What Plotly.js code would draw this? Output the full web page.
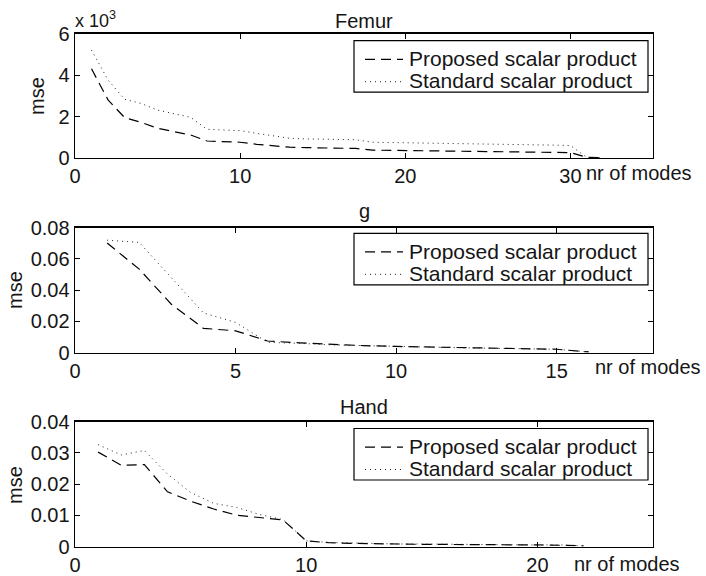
<!DOCTYPE html>
<html>
<head>
<meta charset="utf-8">
<script src="https://cdn.plot.ly/plotly-3.0.1.min.js"></script>
<style>
  html, body { margin: 0; padding: 0; background: #fff; }
  #chart { width: 706px; height: 576px; }
</style>
</head>
<body>
<div id="chart"></div>
<script>
// Reconstruction error (mse) against number of modes, three datasets.

// Femur (values in raw units, axis labelled x 10^3)
const femurModes = [1,2,3,4,5,6,7,8,9,10,11,12,13,14,15,16,17,18,19,20,21,22,23,24,25,26,27,28,29,30,31,32];
const femurProposed = [4300,2800,1950,1720,1430,1270,1110,820,790,760,660,580,520,500,490,470,460,380,370,360,350,340,330,320,310,300,290,280,270,260,30,10];
const femurStandard = [5200,3760,2830,2630,2310,2120,1960,1380,1350,1320,1190,1060,950,920,900,890,880,760,750,740,730,720,700,690,680,670,650,640,620,600,30,10];
const femurTickVals = [0,2000,4000,6000];
const femurTickText = ['0','2','4','6'];

// g
const gModes = [1,2,3,4,5,6,7,8,9,10,11,12,13,14,15,16];
const gProposed = [0.0702,0.0535,0.0310,0.0156,0.0140,0.0075,0.0063,0.0053,0.0045,0.0040,0.0036,0.0032,0.0028,0.0025,0.0022,0.0005];
const gStandard = [0.0720,0.0706,0.0480,0.0255,0.0194,0.0066,0.0060,0.0050,0.0045,0.0040,0.0036,0.0032,0.0028,0.0025,0.0022,0.0005];

// Hand
const handModes = [1,2,3,4,5,6,7,8,9,10,11,12,13,14,15,16,17,18,19,20,21,22];
const handProposed = [0.0302,0.0260,0.0262,0.0175,0.0145,0.0120,0.0100,0.0092,0.0085,0.0018,0.0012,0.0010,0.0008,0.0008,0.0007,0.0007,0.0006,0.0006,0.0005,0.0005,0.0004,0.0002];
const handStandard = [0.0326,0.0293,0.0307,0.0232,0.0173,0.0138,0.0125,0.0102,0.0086,0.0018,0.0013,0.0011,0.0009,0.0008,0.0008,0.0007,0.0007,0.0006,0.0006,0.0005,0.0005,0.0002];

const seriesNames = ['Proposed scalar product', 'Standard scalar product'];
const panelTitles = ['Femur', 'g', 'Hand'];
const xLabel = 'nr of modes';
const yLabel = 'mse';

const FONT = 'Liberation Sans, Arial, Helvetica, sans-serif';
const INK = '#151515';
const W = 706, H = 576, L = 75, R = 53;

const dashStyle = {color: '#000', width: 1.2, dash: '10px,6px'};
const dotStyle = {color: '#222', width: 1, dash: '1px,4px'};

function pair(x, a, b, xa, ya) {
  return [
    {x: x, y: a, name: seriesNames[0], type: 'scatter', mode: 'lines', line: dashStyle,
     xaxis: xa, yaxis: ya, showlegend: false, hoverinfo: 'skip'},
    {x: x, y: b, name: seriesNames[1], type: 'scatter', mode: 'lines', line: dotStyle,
     xaxis: xa, yaxis: ya, showlegend: false, hoverinfo: 'skip'}
  ];
}

const data = [].concat(
  pair(femurModes, femurProposed, femurStandard, 'x', 'y'),
  pair(gModes, gProposed, gStandard, 'x2', 'y2'),
  pair(handModes, handProposed, handStandard, 'x3', 'y3')
);

// plot boxes in pixels (top, bottom)
const boxes = [[33.5, 158], [227.7, 352.7], [421.5, 546.5]];
const dom = b => [1 - b[1] / H, 1 - b[0] / H];

const axisBase = {
  showline: true, mirror: 'ticks', linecolor: '#000', linewidth: 1.4,
  ticks: 'inside', ticklen: 5, tickwidth: 1, tickcolor: '#000',
  showgrid: false, zeroline: false, fixedrange: true,
  tickfont: {family: FONT, size: 20, color: INK}
};

function xa(range, dtick, anchor) {
  return Object.assign({}, axisBase, {range: range, dtick: dtick, tick0: 0, anchor: anchor, domain: [0, 1]});
}
function ya(range, extra, anchor, b) {
  return Object.assign({}, axisBase, {range: range, anchor: anchor, domain: dom(b)}, extra);
}

const ann = (text, x, y, opts) => Object.assign({
  text: text, x: x, y: y, xref: 'paper', yref: 'paper', showarrow: false,
  xanchor: 'center', yanchor: 'middle',
  font: {family: FONT, size: 20, color: INK}
}, opts || {});
const px = v => (v - L) / (W - L - R);
const py = v => 1 - v / H;

const annotations = [
  ann(panelTitles[0], px(364), py(20.5)),
  ann(panelTitles[1], px(364), py(211)),
  ann(panelTitles[2], px(364), py(406.5)),
  ann('x 10<sup>3</sup>', px(73), py(20), {xanchor: 'left', font: {family: FONT, size: 18, color: INK}}),
  ann(yLabel, px(37), py(96), {textangle: -90}),
  ann(yLabel, px(15), py(290), {textangle: -90}),
  ann(yLabel, px(15), py(485), {textangle: -90}),
  ann(xLabel, px(584), py(173), {xanchor: 'left'}),
  ann(xLabel, px(593), py(367), {xanchor: 'left'}),
  ann(xLabel, px(572), py(564), {xanchor: 'left'})
];

// legend boxes: framed key with a line sample per series, one per panel
const legendTops = [40.7, 233.3, 428.5];
const shapes = [];
legendTops.forEach(top => {
  shapes.push({type: 'rect', xref: 'paper', yref: 'paper',
    x0: px(354), x1: px(648), y0: py(top), y1: py(top + 51.5),
    line: {color: '#000', width: 1.2}, fillcolor: '#fff', layer: 'above'});
  shapes.push({type: 'line', xref: 'paper', yref: 'paper',
    x0: px(365), x1: px(403), y0: py(top + 18.6), y1: py(top + 18.6),
    line: dashStyle, layer: 'above'});
  shapes.push({type: 'line', xref: 'paper', yref: 'paper',
    x0: px(365), x1: px(403), y0: py(top + 41), y1: py(top + 41),
    line: dotStyle, layer: 'above'});
  annotations.push(ann(seriesNames[0], px(407), py(top + 18), {xanchor: 'left', font: {family: FONT, size: 21, color: INK}}));
  annotations.push(ann(seriesNames[1], px(407), py(top + 39.8), {xanchor: 'left', font: {family: FONT, size: 21, color: INK}}));
});

const layout = {
  width: W, height: H,
  margin: {l: L, r: R, t: 0, b: 0, pad: 0},
  paper_bgcolor: '#fff', plot_bgcolor: '#fff',
  font: {family: FONT, color: INK},
  xaxis: xa([0, 35], 10, 'y'),
  yaxis: ya([0, 6000], {tickvals: femurTickVals, ticktext: femurTickText}, 'x', boxes[0]),
  xaxis2: xa([0, 18], 5, 'y2'),
  yaxis2: ya([0, 0.08], {dtick: 0.02, tick0: 0}, 'x2', boxes[1]),
  xaxis3: xa([0, 25], 10, 'y3'),
  yaxis3: ya([0, 0.04], {dtick: 0.01, tick0: 0}, 'x3', boxes[2]),
  shapes: shapes,
  annotations: annotations,
  showlegend: false
};

Plotly.newPlot('chart', data, layout, {staticPlot: true, displayModeBar: false});
</script>
</body>
</html>
